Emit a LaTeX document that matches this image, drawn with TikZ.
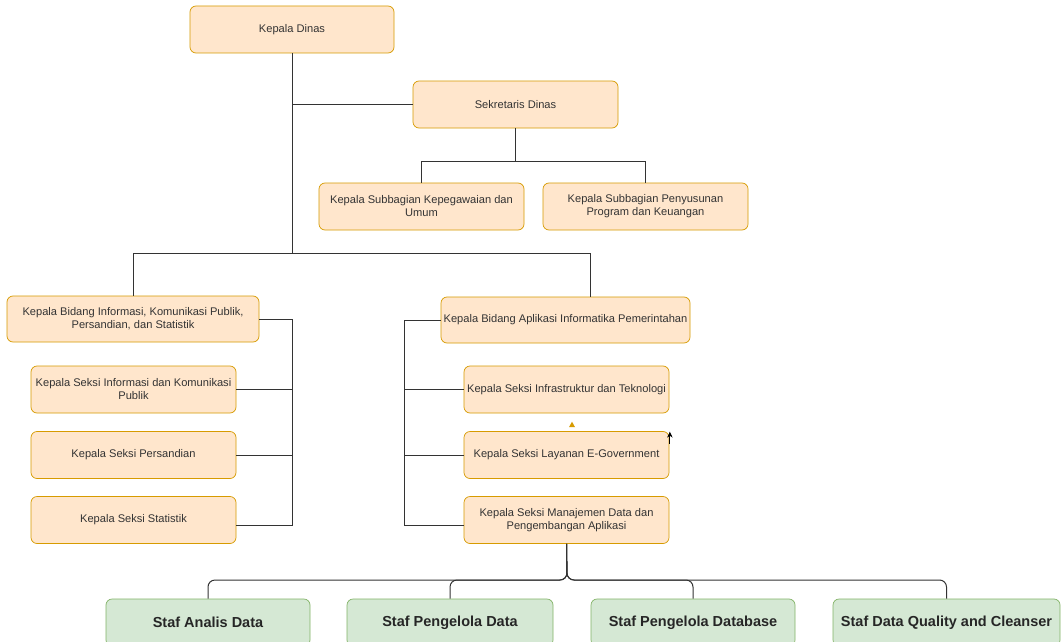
\documentclass[tikz,border=0pt]{standalone}
\usepackage{fontspec}
\setmainfont{Liberation Sans}
\usetikzlibrary{arrows.meta}
\definecolor{ofill}{HTML}{FFE6CC}
\definecolor{ostroke}{HTML}{D79B00}
\definecolor{gfill}{HTML}{D5E8D4}
\definecolor{gstroke}{HTML}{82B366}
\definecolor{lnc}{HTML}{333333}
\definecolor{txt}{HTML}{333333}
\begin{document}
\begin{tikzpicture}[x=1pt,y=-1pt,
  obox/.style={draw=ostroke, fill=ofill, rounded corners=6pt, line width=0.7pt,
    minimum height=47pt, inner xsep=0.5pt, inner ysep=2pt, align=center,
    font=\fontsize{11.1}{13}\selectfont, text=txt},
  gbox/.style={draw=gstroke, fill=gfill, rounded corners=6pt, line width=0.7pt,
    minimum height=47pt, inner xsep=1pt, align=center,
    font=\fontsize{14.5}{17}\selectfont\bfseries, text=black!85},
  link/.style={draw=lnc, line width=1pt},
]
\useasboundingbox (0,0) rectangle (1062,642);
\clip (0,0) rectangle (1062,642);
\fill[white] (0,0) rectangle (1062,642);

% nodes
\node[obox, minimum width=204pt] (kd) at (292,29.5) {Kepala Dinas};
\node[obox, minimum width=205pt] (sd) at (515.5,104.5) {Sekretaris Dinas};
\node[obox, minimum width=205pt] (sk) at (421.5,206.5) {Kepala Subbagian Kepegawaian dan\\Umum};
\node[obox, minimum width=205pt] (sp) at (645.5,206.5) {Kepala Subbagian Penyusunan\\Program dan Keuangan};
\node[obox, minimum width=252pt, minimum height=46pt] (bi) at (133,319) {Kepala Bidang Informasi, Komunikasi Publik,\\Persandian, dan Statistik};
\node[obox, minimum width=205pt] (si) at (133.5,389.5) {Kepala Seksi Informasi dan Komunikasi\\Publik};
\node[obox, minimum width=205pt] (sps) at (133.5,455) {Kepala Seksi Persandian};
\node[obox, minimum width=205pt] (sst) at (133.5,520) {Kepala Seksi Statistik};
\node[obox, minimum width=249pt, minimum height=46pt] (ba) at (565.5,320) {Kepala Bidang Aplikasi Informatika Pemerintahan};
\node[obox, minimum width=205pt] (sin) at (566.5,389.5) {Kepala Seksi Infrastruktur dan Teknologi};
\node[obox, minimum width=205pt] (sl) at (566.5,455) {Kepala Seksi Layanan E-Government};
\node[obox, minimum width=205pt] (sm) at (566.5,520) {Kepala Seksi Manajemen Data dan\\Pengembangan Aplikasi};

\node[gbox, minimum width=204pt] (g1) at (208,622.5) {Staf Analis Data};
\node[gbox, minimum width=206pt] (g2) at (450,622.5) {Staf Pengelola Data};
\node[gbox, minimum width=204pt] (g3) at (693,622.5) {Staf Pengelola Database};
\node[gbox, minimum width=227pt] (g4) at (946.5,622.5) {Staf Data Quality and Cleanser};

% junction coordinates
\coordinate (j1) at (292,253);
\coordinate (j2) at (515.5,161);
\coordinate (lb) at (292,525);
\coordinate (rb) at (404,525);
\coordinate (bj) at (567,580);

% top connectors
\draw[link] (kd.south) -- (j1);
\draw[link] (kd.south) |- (sd.west);
\draw[link] (j1) -| (bi.north);
\draw[link] (j1) -| ([xshift=24.5pt]ba.north);
\draw[link] (sd.south) -- (j2) -| (sk.north);
\draw[link] (j2) -| (sp.north);

% left bracket
\draw[link] (bi.east) -| (lb) -- ([yshift=-5pt]sst.east);
\draw[link] (si.east) -- (si.east -| lb);
\draw[link] (sps.east) -- (sps.east -| lb);

% right bracket
\draw[link] (ba.west) -| (rb) -- ([yshift=-5pt]sm.west);
\draw[link] (sin.west) -- (sin.west -| rb);
\draw[link] (sl.west) -- (sl.west -| rb);

% bottom tree
\draw[link, rounded corners=7pt] (sm.south) -- (bj) -| (g1.north);
\draw[link, rounded corners=7pt] (sm.south) -- (bj) -| (g2.north);
\draw[link, rounded corners=7pt] (sm.south) -- (bj) -| (g3.north);
\draw[link, rounded corners=7pt] (sm.south) -- (bj) -| (g4.north);

% small stray marks
\fill[ostroke] ([xshift=2.5pt,yshift=4pt]sl.north) -- ([xshift=8.5pt,yshift=4pt]sl.north) -- ([xshift=5.5pt,yshift=9.5pt]sl.north) -- cycle;
\draw[line width=0.9pt, -{Stealth[length=6pt,width=5.5pt]}] ([xshift=0.5pt,yshift=-13pt]sl.north east) -- ([xshift=0.5pt,yshift=-0.5pt]sl.north east);
\end{tikzpicture}
\end{document}
